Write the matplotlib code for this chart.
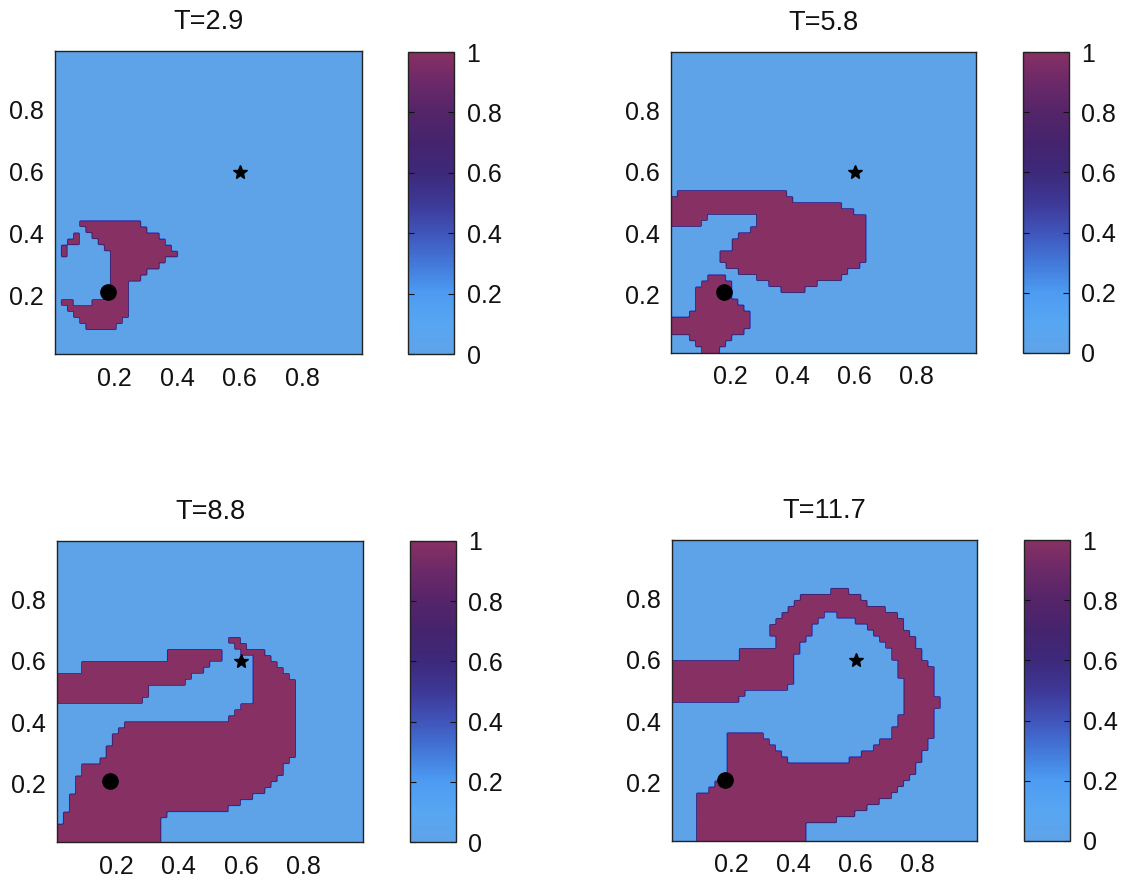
import numpy as np
import matplotlib.pyplot as plt
from matplotlib.path import Path
from matplotlib.colors import LinearSegmentedColormap

plt.rcParams['font.family'] = ['Liberation Sans', 'DejaVu Sans']

# 50x50 cell grid on [0.01, 0.99]^2
n_grid = 50
lo, hi = 0.01, 0.99

titles = ['T=2.9', 'T=5.8', 'T=8.8', 'T=11.7']
source_xy = (0.18, 0.21)   # stimulus site (dot)
target_xy = (0.60, 0.60)   # probe site (star)
ticks = [0.2, 0.4, 0.6, 0.8]
cbar_ticks = [0, 0.2, 0.4, 0.6, 0.8, 1]

# excited regions (state = 1) as outlines in (x, y)
regions_t29 = [
    [(0.090, 0.440), (0.281, 0.440), (0.286, 0.416), (0.313, 0.405), (0.345, 0.400),
     (0.351, 0.379), (0.382, 0.368), (0.388, 0.352), (0.404, 0.341), (0.407, 0.330),
     (0.372, 0.323), (0.369, 0.305), (0.334, 0.287), (0.313, 0.276), (0.303, 0.260),
     (0.281, 0.255), (0.244, 0.247), (0.240, 0.205), (0.239, 0.131), (0.223, 0.120),
     (0.207, 0.115), (0.201, 0.093), (0.111, 0.098), (0.090, 0.115), (0.069, 0.137),
     (0.048, 0.163), (0.031, 0.174), (0.026, 0.190), (0.048, 0.195), (0.064, 0.179),
     (0.100, 0.163), (0.127, 0.163), (0.143, 0.184), (0.164, 0.190), (0.186, 0.206),
     (0.191, 0.227), (0.188, 0.335), (0.170, 0.363), (0.147, 0.363), (0.147, 0.383),
     (0.127, 0.383), (0.127, 0.402), (0.108, 0.402), (0.108, 0.422), (0.090, 0.422)],
    [(0.050, 0.363), (0.088, 0.363), (0.088, 0.401), (0.069, 0.401), (0.069, 0.382),
     (0.050, 0.382)],
    [(0.030, 0.325), (0.050, 0.325), (0.050, 0.362), (0.030, 0.362)],
]

regions_t58 = [
    [(-0.01, 0.520), (0.028, 0.528), (0.040, 0.532), (0.382, 0.532), (0.398, 0.514),
     (0.414, 0.497), (0.553, 0.497), (0.574, 0.481), (0.607, 0.470), (0.628, 0.454),
     (0.633, 0.440), (0.633, 0.334), (0.628, 0.313), (0.612, 0.291), (0.585, 0.280),
     (0.574, 0.269), (0.553, 0.248), (0.489, 0.237), (0.457, 0.221), (0.414, 0.199),
     (0.376, 0.199), (0.360, 0.221), (0.328, 0.237), (0.296, 0.253), (0.232, 0.269),
     (0.189, 0.291), (0.167, 0.307), (0.157, 0.324), (0.167, 0.334), (0.194, 0.340),
     (0.200, 0.356), (0.216, 0.378), (0.232, 0.400), (0.253, 0.410), (0.275, 0.421),
     (0.291, 0.438), (0.285, 0.459), (0.157, 0.465), (0.135, 0.454), (0.125, 0.438),
     (0.103, 0.427), (-0.01, 0.427)],
    [(0.092, 0.204), (0.103, 0.237), (0.125, 0.256), (0.162, 0.264), (0.189, 0.256),
     (0.205, 0.231), (0.212, 0.199), (0.232, 0.172), (0.255, 0.150), (0.262, 0.107),
     (0.251, 0.076), (0.221, 0.063), (0.189, 0.047), (0.167, 0.025), (0.157, -0.01),
     (0.119, -0.01), (0.092, 0.036), (0.066, 0.058), (0.039, 0.074), (-0.01, 0.085),
     (-0.01, 0.139), (0.028, 0.123), (0.060, 0.128), (0.082, 0.150), (0.092, 0.172)],
]

regions_t88 = [
    [(-0.01, 0.565), (0.094, 0.565), (0.094, 0.597), (0.372, 0.597), (0.372, 0.635),
     (0.521, 0.635), (0.543, 0.616), (0.537, 0.608), (0.516, 0.597), (0.500, 0.586),
     (0.479, 0.570), (0.457, 0.559), (0.436, 0.548), (0.425, 0.532), (0.415, 0.521),
     (0.308, 0.510), (0.303, 0.489), (0.292, 0.470), (-0.01, 0.470)],
    [(-0.01, -0.01), (0.335, -0.01), (0.335, 0.092), (0.372, 0.103), (0.489, 0.103),
     (0.564, 0.120), (0.585, 0.136), (0.628, 0.152), (0.649, 0.163), (0.671, 0.179),
     (0.692, 0.201), (0.714, 0.223), (0.735, 0.244), (0.751, 0.266), (0.772, 0.299),
     (0.778, 0.331), (0.778, 0.516), (0.767, 0.537), (0.751, 0.559), (0.724, 0.581),
     (0.692, 0.608), (0.671, 0.630), (0.649, 0.641), (0.617, 0.648), (0.601, 0.658),
     (0.585, 0.670), (0.575, 0.682), (0.558, 0.676), (0.568, 0.660), (0.590, 0.640),
     (0.610, 0.620), (0.628, 0.608), (0.639, 0.597), (0.639, 0.472), (0.617, 0.467),
     (0.601, 0.456), (0.585, 0.440), (0.569, 0.423), (0.564, 0.402), (0.532, 0.396),
     (0.222, 0.396), (0.201, 0.375), (0.190, 0.342), (0.169, 0.310), (0.148, 0.277),
     (0.126, 0.266), (0.094, 0.261), (0.089, 0.244), (0.073, 0.201), (0.062, 0.190),
     (0.052, 0.114), (0.014, 0.071), (-0.01, 0.065)],
]

regions_t117 = [
    [(-0.01, 0.597), (0.234, 0.597), (0.234, 0.632), (0.336, 0.637), (0.330, 0.708),
     (0.346, 0.735), (0.362, 0.757), (0.378, 0.768), (0.400, 0.789), (0.421, 0.806),
     (0.475, 0.811), (0.507, 0.816), (0.534, 0.838), (0.555, 0.840), (0.571, 0.827),
     (0.593, 0.822), (0.614, 0.806), (0.635, 0.789), (0.668, 0.773), (0.721, 0.751),
     (0.743, 0.735), (0.764, 0.697), (0.785, 0.670), (0.807, 0.632), (0.828, 0.599),
     (0.844, 0.567), (0.850, 0.534), (0.860, 0.502), (0.866, 0.474), (0.860, 0.415),
     (0.850, 0.371), (0.839, 0.328), (0.818, 0.284), (0.796, 0.252), (0.775, 0.219),
     (0.743, 0.187), (0.710, 0.154), (0.668, 0.133), (0.614, 0.111), (0.571, 0.089),
     (0.528, 0.078), (0.475, 0.073), (0.443, 0.057), (0.437, -0.01), (0.089, -0.01),
     (0.089, 0.165), (0.116, 0.171), (0.132, 0.192), (0.159, 0.203), (0.175, 0.214),
     (0.196, 0.230), (0.196, 0.366), (0.293, 0.366), (0.378, 0.274), (0.571, 0.268),
     (0.593, 0.284), (0.635, 0.301), (0.678, 0.328), (0.714, 0.360), (0.737, 0.393),
     (0.748, 0.436), (0.753, 0.480), (0.748, 0.523), (0.737, 0.567), (0.721, 0.610),
     (0.700, 0.643), (0.678, 0.675), (0.646, 0.697), (0.614, 0.719), (0.580, 0.735),
     (0.545, 0.746), (0.507, 0.746), (0.475, 0.730), (0.464, 0.697), (0.443, 0.675),
     (0.421, 0.648), (0.411, 0.610), (0.405, 0.567), (0.400, 0.529), (0.389, 0.507),
     (0.325, 0.496), (0.239, 0.491), (0.234, 0.469), (-0.01, 0.469)],
]

all_regions = [regions_t29, regions_t58, regions_t88, regions_t117]

# panel and colorbar boxes in pixels (left, top, right, bottom)
panel_px = [(55, 51, 362, 354), (671, 52, 976, 353),
            (57, 541, 363, 842), (672, 540, 977, 841)]
cbar_px = [(408, 52, 454, 354), (1023, 52, 1069, 353),
           (410, 541, 456, 842), (1024, 540, 1070, 841)]

W, H = 1121, 884

cmap = LinearSegmentedColormap.from_list('exc', [
    (0.00, (0.37, 0.64, 0.91)),
    (0.10, (0.34, 0.65, 0.95)),
    (0.20, (0.30, 0.61, 0.95)),
    (0.30, (0.26, 0.47, 0.85)),
    (0.40, (0.25, 0.33, 0.73)),
    (0.50, (0.24, 0.22, 0.59)),
    (0.60, (0.24, 0.16, 0.48)),
    (0.70, (0.27, 0.14, 0.43)),
    (0.80, (0.33, 0.14, 0.41)),
    (0.90, (0.42, 0.16, 0.41)),
    (1.00, (0.53, 0.19, 0.39)),
])


def to_fig(box):
    x0, y0, x1, y1 = box
    return [x0 / W, 1 - y1 / H, (x1 - x0) / W, (y1 - y0) / H]


def rasterize(polys):
    c = lo + (hi - lo) * (np.arange(n_grid) + 0.5) / n_grid
    gx, gy = np.meshgrid(c, c)
    pts = np.column_stack([gx.ravel(), gy.ravel()])
    field = np.zeros(n_grid * n_grid)
    for p in polys:
        field[Path(p).contains_points(pts)] = 1.0
    return field.reshape(n_grid, n_grid)


fig = plt.figure(figsize=(W / 100, H / 100), dpi=100)

for k in range(4):
    ax = fig.add_axes(to_fig(panel_px[k]))
    field = rasterize(all_regions[k])
    field_up = np.kron(field, np.ones((3, 3)))
    im = ax.imshow(field_up, origin='lower', extent=(lo, hi, lo, hi), cmap=cmap,
                   vmin=0, vmax=1, interpolation='bilinear',
                   interpolation_stage='data', aspect='auto')
    ax.plot(*source_xy, 'o', color='k', ms=11)
    ax.plot(*target_xy, '*', color='k', ms=10)
    ax.set_xlim(lo, hi)
    ax.set_ylim(lo, hi)
    ax.set_xticks(ticks)
    ax.set_yticks(ticks)
    ax.set_xticklabels([f'{t:.1f}' for t in ticks])
    ax.set_yticklabels([f'{t:.1f}' for t in ticks])
    ax.tick_params(length=0, labelsize=18, colors='#111111')
    ax.tick_params(axis='x', pad=9)
    ax.tick_params(axis='y', pad=8)
    for s in ax.spines.values():
        s.set_color('#222222')
        s.set_linewidth(1.0)
    ax.set_title(titles[k], fontsize=19.5, pad=16, color='#111111')

    cax = fig.add_axes(to_fig(cbar_px[k]))
    cb = fig.colorbar(im, cax=cax, ticks=cbar_ticks)
    cb.ax.set_yticklabels(['0', '0.2', '0.4', '0.6', '0.8', '1'])
    cb.ax.tick_params(direction='in', length=4, left=True, right=True,
                      labelsize=18, pad=9, colors='#111111')
    cb.outline.set_color('#222222')
    cb.outline.set_linewidth(1.0)

fig.savefig('out.png', dpi=100, facecolor='white')
